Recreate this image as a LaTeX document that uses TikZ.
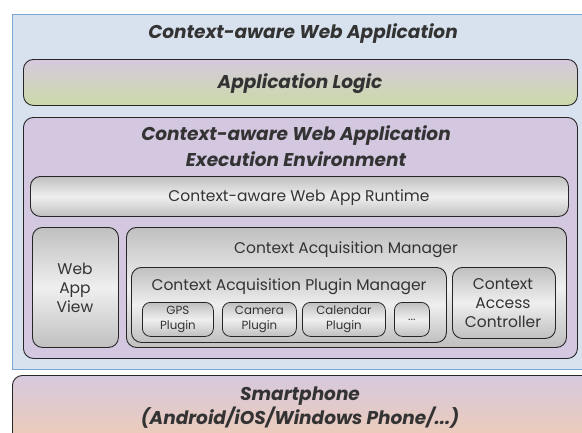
\documentclass[tikz,border=0pt]{standalone}
\usepackage{fontspec}
\setmainfont{Poppins}
\usetikzlibrary{positioning}
\definecolor{txt}{HTML}{333333}
\definecolor{bluefill}{HTML}{D8E2EE}
\definecolor{blueline}{HTML}{7EA3D6}
\definecolor{lav}{HTML}{D3C8E0}
\definecolor{lavtop}{HTML}{D6C9DE}
\definecolor{greenbot}{HTML}{CBDAA8}
\definecolor{peach}{HTML}{F7CCA8}
\definecolor{gdark}{HTML}{C0C0C0}
\definecolor{glight}{HTML}{EFEFEF}
\tikzset{
  panel/.style={draw=black!85, line width=0.9pt, rounded corners=10pt, anchor=north west, inner sep=0pt},
  graybox/.style={panel, top color=gdark, bottom color=gdark, middle color=glight},
  smallbox/.style={graybox, rounded corners=8pt, line width=0.8pt},
  hd/.style={font=\fontsize{18.5}{26}\selectfont\bfseries\itshape, text=txt, align=center},
  lbl/.style={font=\fontsize{15.5}{19}\selectfont, text=txt, align=center},
  tiny/.style={font=\fontsize{11.8}{15}\selectfont, text=txt, align=center},
}
\begin{document}
\begin{tikzpicture}[x=1pt, y=-1pt]
\clip (0,0) rectangle (582,432);
\fill[white] (0,0) rectangle (582,432);

% outer application frame
\node[draw=blueline, fill=bluefill, line width=0.9pt, anchor=north west, inner sep=0pt,
      minimum width=580pt, minimum height=355pt] (app) at (12,14) {};
\node[hd] (apptitle) at (303,34) {Context-aware Web Application};

% application logic layer
\node[panel, top color=lavtop, bottom color=greenbot, minimum width=554pt, minimum height=46pt] (logic) at (23,59) {};
\node[hd] (logictitle) at (300,84) {Application Logic};

% execution environment
\node[panel, fill=lav, minimum width=554pt, minimum height=241pt] (env) at (23,117) {};
\node[hd] (envtitle) at (296,146) {Context-aware Web Application\\Execution Environment};

\node[graybox, minimum width=538pt, minimum height=40pt] (runtime) at (30,176) {};
\node[lbl] (runtimetitle) at (299,198) {Context-aware Web App Runtime};

\node[graybox, minimum width=86pt, minimum height=120pt] (view) at (32,227) {};
\node[lbl] (viewtitle) at (75,288) {Web\\App\\View};

\node[graybox, minimum width=440pt, minimum height=120pt] (cam) at (126,227) {};
\node[lbl] (camtitle) at (346,250) {Context Acquisition Manager};

\node[graybox, minimum width=315pt, minimum height=75pt] (cpm) at (131,267) {};
\node[lbl] (cpmtitle) at (289,287) {Context Acquisition Plugin Manager};

\node[graybox, minimum width=103pt, minimum height=71pt] (cac) at (452,267) {};
\node[lbl] (cactitle) at (503,303) {Context\\Access\\Controller};

\node[smallbox, minimum width=71pt, minimum height=34pt] (gps) at (142,302) {};
\node[tiny] (gpstitle) at (gps.center) {GPS\\Plugin};
\node[smallbox, minimum width=74pt, minimum height=34pt] (camera) at (222,302) {};
\node[tiny] (cameratitle) at (camera.center) {Camera\\Plugin};
\node[smallbox, minimum width=83pt, minimum height=34pt] (calendar) at (302,302) {};
\node[tiny] (calendartitle) at (calendar.center) {Calendar\\Plugin};
\node[smallbox, minimum width=35pt, minimum height=34pt] (more) at (394,302) {};
\node[tiny] (moretitle) at (more.center) {...};

% platform layer
\node[panel, top color=lavtop, bottom color=peach, minimum width=600pt, minimum height=90pt] (phone) at (12,375) {};
\node[hd, font=\fontsize{18.5}{24}\selectfont\bfseries\itshape] (phonetitle) at (300,408) {Smartphone\\(Android/iOS/Windows Phone/...)};
\end{tikzpicture}
\end{document}
